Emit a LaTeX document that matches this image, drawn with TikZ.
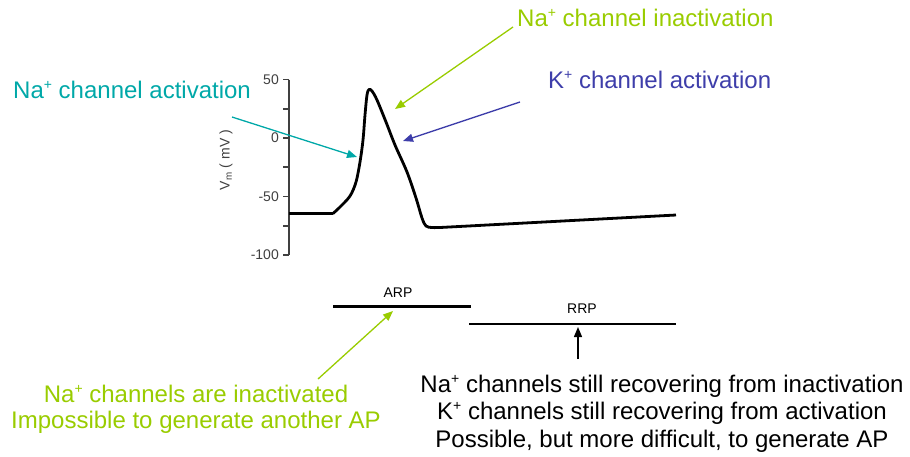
\documentclass[tikz,border=0pt]{standalone}
\usepackage{fontspec}
\setmainfont{Liberation Sans}
\usetikzlibrary{arrows.meta}
\definecolor{tealc}{RGB}{0,168,168}
\definecolor{bluec}{RGB}{62,62,170}
\definecolor{greenc}{RGB}{153,204,0}
\definecolor{tickc}{RGB}{64,64,64}
\newcommand\supplus{\raisebox{0.37em}{\fontsize{14}{14}\selectfont +}}
\tikzset{
  big/.style={font=\fontsize{24}{28}\selectfont, inner sep=0pt},
  small/.style={font=\fontsize{14}{16}\selectfont, inner sep=0pt},
  pointer/.style={line width=1.3pt, -{Triangle[length=10pt,width=8pt]}},
  tickline/.style={line width=1.8pt, tickc},
}
\begin{document}
\begin{tikzpicture}[x=1pt,y=-1pt]
\useasboundingbox (0,0) rectangle (910,456);
% axis
\draw[tickline] (289,79.5) -- (289,255);
\foreach \yy in {79.5,108.75,138,167.25,196.5,225.75,255}
  \draw[tickline] (283,\yy) -- (289,\yy);
\node[small, text=tickc, anchor=east] (t50) at (279,79.5) {50};
\node[small, text=tickc, anchor=east] (t0) at (279,138) {0};
\node[small, text=tickc, anchor=east] (tm50) at (279,196.5) {-50};
\node[small, text=tickc, anchor=east] (tm100) at (279,255) {-100};
\node[small, text=tickc, rotate=90] (ylab) at (226,160) {V\textsubscript{m} ( mV )};
% action potential
\draw[line width=2.8pt, line join=round] (289,213.5) -- (333,213.5)
  plot[smooth, tension=0.55] coordinates {(333,213.5) (340,207) (350,196) (356,182) (360,162) (363,140) (365,115) (367,95) (369,89.5) (372,91) (377,100) (386,122) (395,145) (407,172) (416,198) (422,218) (426,226) (432,227.5) (440,227.5)}
  -- (676,215);
% periods
\draw[line width=3.2pt] (333,306.5) -- (471,306.5);
\draw[line width=1.8pt] (469,324) -- (676,324);
\node[small] (arp) at (398,292.5) {ARP};
\node[small] (rrp) at (582,309) {RRP};
% labels
\node[big, text=greenc, anchor=base west] (nainact) at (517,26) {Na\supplus{} channel inactivation};
\node[big, text=tealc, anchor=base west] (naact) at (13,98) {Na\supplus{} channel activation};
\node[big, text=bluec, anchor=base west] (kact) at (548,88) {K\supplus{} channel activation};
\node[big, text=greenc, anchor=base] (arp1) at (196,402) {Na\supplus{} channels are inactivated};
\node[big, text=greenc, anchor=base] (arp2) at (196,428) {Impossible to generate another AP};
\node[big, anchor=base] (rrp1) at (662,392) {Na\supplus{} channels still recovering from inactivation};
\node[big, anchor=base] (rrp2) at (662,419.5) {K\supplus{} channels still recovering from activation};
\node[big, anchor=base] (rrp3) at (662,447) {Possible, but more difficult, to generate AP};
% arrow ends
\coordinate (naactS) at (232,117);
\coordinate (naactE) at (357,157);
\coordinate (nainS) at (513,27);
\coordinate (nainE) at (395,109);
\coordinate (kS) at (520,102);
\coordinate (kE) at (403,141);
\coordinate (arpS) at (318,379);
\coordinate (arpE) at (393,311);
\coordinate (rrpS) at (578,359);
\coordinate (rrpE) at (578,327);
\draw[pointer, tealc] (naactS) -- (naactE);
\draw[pointer, greenc] (nainS) -- (nainE);
\draw[pointer, bluec] (kS) -- (kE);
\draw[pointer, greenc] (arpS) -- (arpE);
\draw[pointer, black] (rrpS) -- (rrpE);
\end{tikzpicture}
\end{document}
